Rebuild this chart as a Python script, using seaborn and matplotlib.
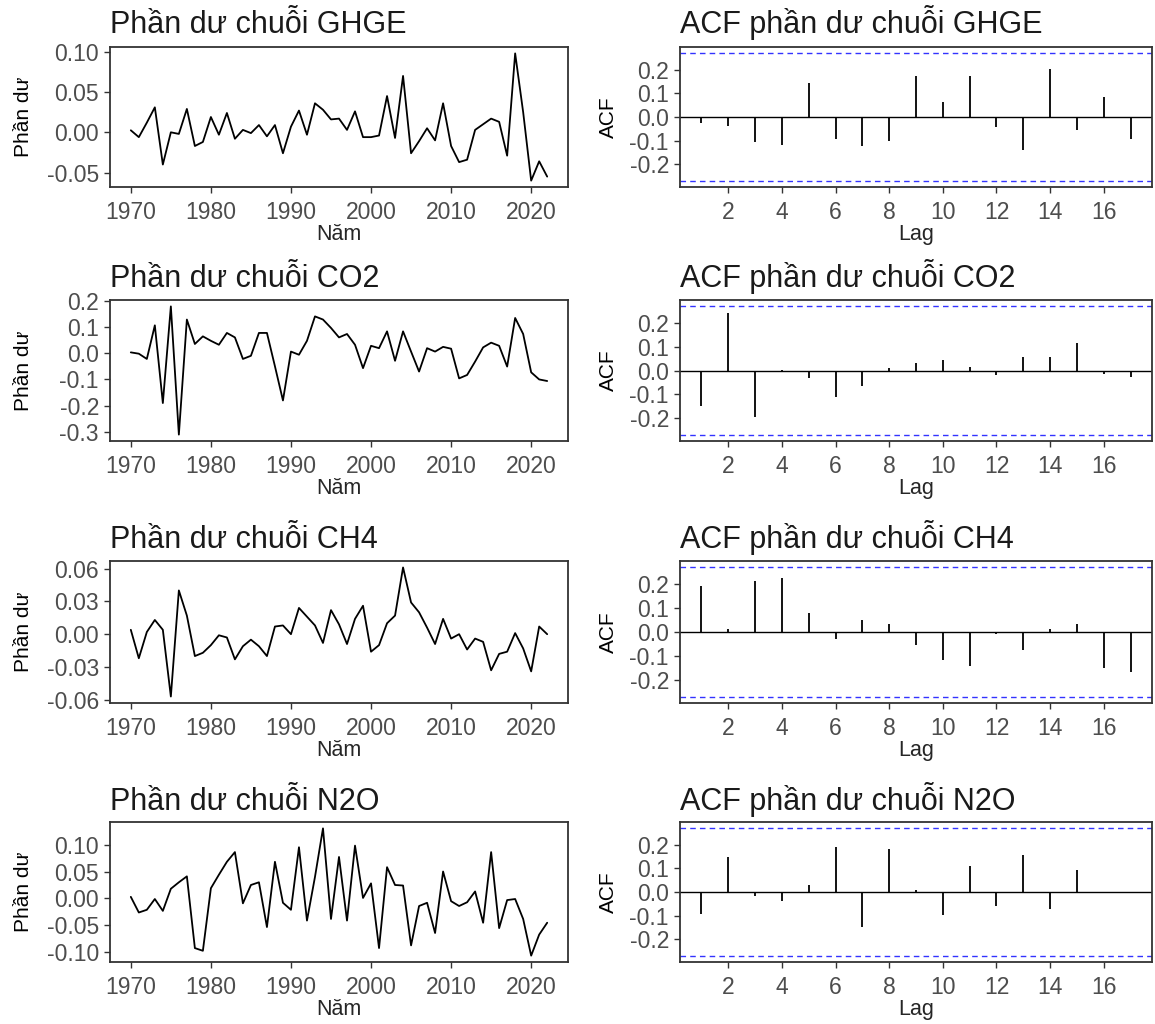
import matplotlib
matplotlib.use("Agg")
import matplotlib.pyplot as plt
import seaborn as sns
import pandas as pd

# Dữ liệu phần dư (1970-2022)
nam = list(range(1970, 2023))

ghge = [0.0025, -0.006, 0.012, 0.031, -0.040, 0.000, -0.002, 0.029, -0.017, -0.012,
        0.019, -0.003, 0.024, -0.008, 0.003, -0.001, 0.009, -0.005, 0.009, -0.026,
        0.007, 0.027, -0.003, 0.036, 0.028, 0.016, 0.017, 0.003, 0.026, -0.006,
        -0.006, -0.004, 0.045, -0.007, 0.070, -0.026, -0.011, 0.005, -0.010, 0.036,
        -0.017, -0.037, -0.034, 0.003, 0.010, 0.017, 0.013, -0.029, 0.098, 0.025,
        -0.060, -0.036, -0.055]

co2 = [0.003, -0.002, -0.022, 0.106, -0.190, 0.178, -0.310, 0.128, 0.035, 0.064,
       0.047, 0.032, 0.077, 0.060, -0.022, -0.010, 0.077, 0.077, -0.050, -0.180,
       0.006, -0.006, 0.047, 0.140, 0.128, 0.096, 0.060, 0.073, 0.032, -0.057,
       0.028, 0.019, 0.083, -0.029, 0.083, 0.006, -0.070, 0.019, 0.006, 0.024,
       0.017, -0.096, -0.083, -0.032, 0.022, 0.040, 0.028, -0.051, 0.134, 0.073,
       -0.073, -0.100, -0.106]

ch4 = [0.004, -0.022, 0.002, 0.013, 0.004, -0.057, 0.040, 0.017, -0.020, -0.017,
       -0.010, -0.001, -0.003, -0.023, -0.011, -0.005, -0.011, -0.020, 0.007, 0.008,
       0.000, 0.024, 0.016, 0.008, -0.008, 0.022, 0.009, -0.009, 0.014, 0.026,
       -0.016, -0.010, 0.010, 0.017, 0.061, 0.029, 0.020, 0.006, -0.009, 0.014,
       -0.004, 0.000, -0.014, -0.004, -0.007, -0.033, -0.018, -0.016, 0.001, -0.013,
       -0.034, 0.007, 0.000]

n2o = [0.003, -0.026, -0.021, -0.001, -0.023, 0.018, 0.030, 0.041, -0.092, -0.097,
       0.019, 0.044, 0.068, 0.086, -0.009, 0.025, 0.030, -0.053, 0.068, -0.008,
       -0.021, 0.095, -0.041, 0.040, 0.130, -0.038, 0.077, -0.041, 0.098, 0.001,
       0.028, -0.092, 0.058, 0.025, 0.024, -0.087, -0.014, -0.008, -0.064, 0.050,
       -0.005, -0.014, -0.007, 0.013, -0.045, 0.086, -0.055, -0.003, -0.001, -0.038,
       -0.106, -0.067, -0.045]

# ACF của phần dư, lag 1..17
lags = list(range(1, 18))
acf_ghge = [-0.025, -0.036, -0.106, -0.117, 0.145, -0.095, -0.123, -0.102, 0.173,
            0.064, 0.173, -0.042, -0.140, 0.201, -0.057, 0.084, -0.095]
acf_co2 = [-0.151, 0.242, -0.195, 0.002, -0.032, -0.112, -0.064, 0.009, 0.030,
           0.046, 0.013, -0.020, 0.057, 0.057, 0.116, -0.013, -0.027]
acf_ch4 = [0.190, 0.013, 0.213, 0.224, 0.078, -0.030, 0.050, 0.035, -0.054,
           -0.118, -0.142, -0.008, -0.076, 0.013, 0.035, -0.149, -0.166]
acf_n2o = [-0.093, 0.148, -0.015, -0.039, 0.031, 0.189, -0.149, 0.182, 0.010,
           -0.098, 0.108, -0.060, 0.155, -0.071, 0.091, 0.002, -0.003]
acf_bound = 0.269

ten_chuoi = ["GHGE", "CO2", "CH4", "N2O"]
phan_du = [ghge, co2, ch4, n2o]
acf_list = [acf_ghge, acf_co2, acf_ch4, acf_n2o]
yticks_resid = [[-0.05, 0.00, 0.05, 0.10],
                [-0.3, -0.2, -0.1, 0.0, 0.1, 0.2],
                [-0.06, -0.03, 0.00, 0.03, 0.06],
                [-0.10, -0.05, 0.00, 0.05, 0.10]]
ytick_fmt = ["{:.2f}", "{:.1f}", "{:.2f}", "{:.2f}"]
xticks_nam = [1970, 1980, 1990, 2000, 2010, 2020]
xticks_lag = [2, 4, 6, 8, 10, 12, 14, 16]
yticks_acf = [-0.2, -0.1, 0.0, 0.1, 0.2]

sns.set_theme(style="ticks")
plt.rcParams['font.family'] = ['Liberation Sans', 'DejaVu Sans']
plt.rcParams['axes.unicode_minus'] = False

W, H = 1155, 1024
fig = plt.figure(figsize=(W / 100, H / 100), dpi=100)

# vị trí khung (pixel): trên / dưới cho từng hàng
rows = [(47, 187), (300, 441), (561, 703), (822, 962)]
lx0, lx1 = 110, 568
rx0, rx1 = 680, 1152
title_base = [33, 287, 548, 810]

grey_tick = "#4D4D4D"
edge = "#333333"


def style_axes(ax):
    for sp in ax.spines.values():
        sp.set_visible(True)
        sp.set_color(edge)
        sp.set_linewidth(1.3)
    ax.tick_params(direction="out", length=4, width=1.0, color=edge,
                   labelsize=16.5, labelcolor=grey_tick)
    ax.tick_params(axis="x", pad=6)
    ax.tick_params(axis="y", pad=4)


for i in range(4):
    t, b = rows[i]

    # ---- phần dư ----
    ax = fig.add_axes([lx0 / W, 1 - b / H, (lx1 - lx0) / W, (b - t) / H])
    df = pd.DataFrame({"Năm": nam, "Phần dư": phan_du[i]})
    sns.lineplot(data=df, x="Năm", y="Phần dư", ax=ax, color="black", linewidth=1.3)
    ax.set_xticks(xticks_nam)
    ax.set_yticks(yticks_resid[i])
    ax.set_yticklabels([ytick_fmt[i].format(v) for v in yticks_resid[i]])
    ax.set_xlabel("Năm", fontsize=15.5, labelpad=0)
    ax.set_ylabel("Phần dư", fontsize=15, color="black")
    ax.yaxis.set_label_coords((33 - lx0) / (lx1 - lx0), 0.5)
    style_axes(ax)
    fig.text(lx0 / W, 1 - title_base[i] / H, f"Phần dư chuỗi {ten_chuoi[i]}",
             fontsize=22, va="baseline", ha="left", color="#1a1a1a")

    # ---- ACF ----
    ax2 = fig.add_axes([rx0 / W, 1 - b / H, (rx1 - rx0) / W, (b - t) / H])
    ax2.vlines(lags, 0, acf_list[i], color="black", linewidth=1.3)
    ax2.axhline(0, color="black", linewidth=1.0)
    ax2.axhline(acf_bound, color="blue", linestyle=(0, (4, 3)), linewidth=1.0, alpha=0.8)
    ax2.axhline(-acf_bound, color="blue", linestyle=(0, (4, 3)), linewidth=1.0, alpha=0.8)
    ax2.set_ylim(-acf_bound * 1.1, acf_bound * 1.1)
    ax2.set_xticks(xticks_lag)
    ax2.set_yticks(yticks_acf)
    ax2.set_yticklabels([f"{v:.1f}" for v in yticks_acf])
    ax2.set_xlabel("Lag", fontsize=15.5, labelpad=0)
    ax2.set_ylabel("ACF", fontsize=15, color="black")
    ax2.yaxis.set_label_coords((618 - rx0) / (rx1 - rx0), 0.5)
    style_axes(ax2)
    fig.text(rx0 / W, 1 - title_base[i] / H, f"ACF phần dư chuỗi {ten_chuoi[i]}",
             fontsize=22, va="baseline", ha="left", color="#1a1a1a")

fig.savefig("out.png", dpi=100, facecolor="white")
